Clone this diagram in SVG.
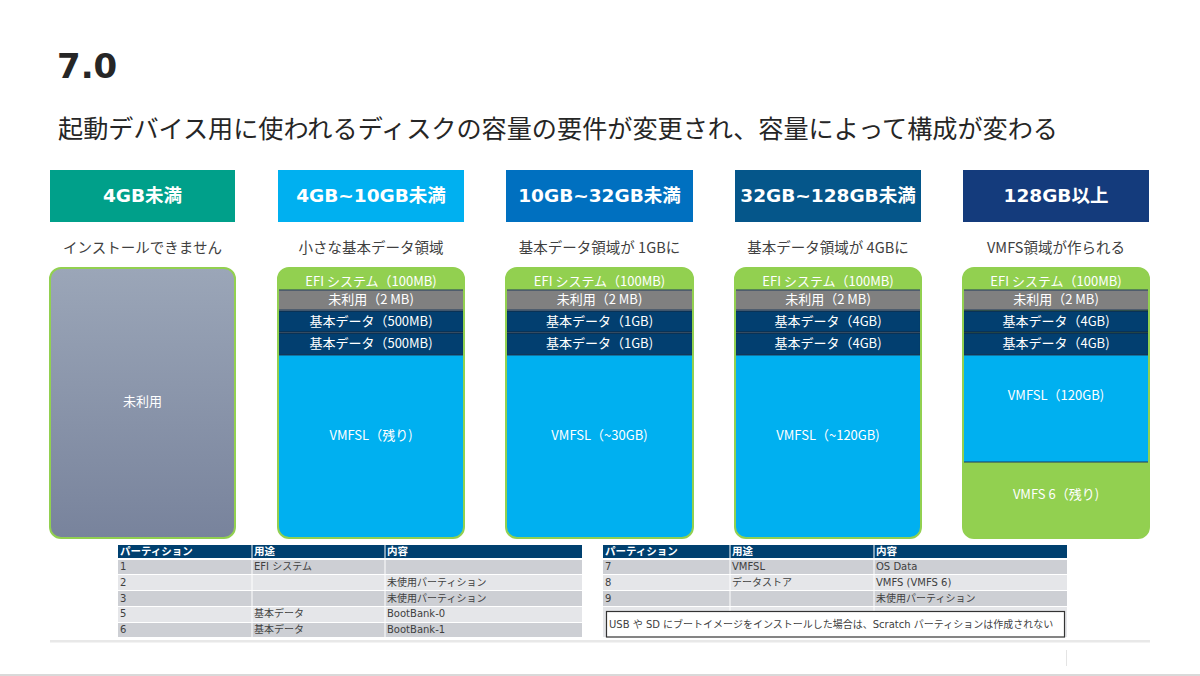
<svg xmlns="http://www.w3.org/2000/svg" width="1200" height="676" viewBox="0 0 1200 676">
<style>
.jp{font-family:"Noto Sans CJK JP","Noto Sans",sans-serif}
.ttl{font-family:"DejaVu Sans","Noto Sans CJK JP",sans-serif;font-weight:bold;font-size:34px;fill:#262626}
.sub{font-size:25px;fill:#262626}
.hd{font-family:"DejaVu Sans","Noto Sans CJK JP",sans-serif;font-size:18.5px;font-weight:bold;fill:#fff;text-anchor:middle}
.cap{font-size:14.5px;fill:#404040;text-anchor:middle}
.dk{font-size:13px;fill:#fff;text-anchor:middle}
.tb{font-family:"DejaVu Sans","Noto Sans CJK JP",sans-serif;font-size:10px;fill:#404040}
.th{font-family:"Noto Sans CJK JP",sans-serif;font-size:10.5px;font-weight:bold;fill:#fff}
.efi{fill:#92D050}
.gr{fill:#808080;stroke:#1F3B5A;stroke-width:1}
.bd{fill:#023F70;stroke:#0F2A45;stroke-width:1.2}
.lb{fill:#00B0F0;stroke:#1F3B5A;stroke-width:1}
.out{fill:none;stroke:#92D050;stroke-width:2}
.r1{fill:#CDCFD4}
.r2{fill:#E5E6E9}
.hr{fill:#00406F}
</style>
<defs>
<linearGradient id="gUn" x1="0" y1="0" x2="0" y2="1">
<stop offset="0" stop-color="#9BA6B8"/>
<stop offset="1" stop-color="#78839C"/>
</linearGradient>
<clipPath id="c2"><rect x="278" y="268" width="186" height="270" rx="11"/></clipPath>
<clipPath id="c3"><rect x="506" y="268" width="187" height="270" rx="11"/></clipPath>
<clipPath id="c4"><rect x="735" y="268" width="186" height="270" rx="11"/></clipPath>
<clipPath id="c5"><rect x="963" y="268" width="186" height="270" rx="11"/></clipPath>
</defs>
<rect width="1200" height="676" fill="#fff"/>

<g id="title">
<text x="57" y="78" class="ttl">7.0</text>
<text x="58" y="138" class="jp sub" textLength="1000" lengthAdjust="spacingAndGlyphs">起動デバイス用に使われるディスクの容量の要件が変更され、容量によって構成が変わる</text>
</g>

<g id="col1">
<rect x="50" y="170" width="185" height="52" fill="#00A08A"/>
<text x="142.5" y="202" class="hd">4GB未満</text>
<text x="142.5" y="253" class="jp cap">インストールできません</text>
<rect x="50" y="268" width="185" height="270" rx="11" fill="url(#gUn)"/>
<rect x="50" y="268" width="185" height="270" rx="11" class="out"/>
<text x="142.5" y="406" class="jp dk">未利用</text>
</g>

<g id="col2">
<rect x="278" y="170" width="186" height="52" fill="#00B0F0"/>
<text x="371" y="202" class="hd">4GB~10GB未満</text>
<text x="371" y="253" class="jp cap">小さな基本データ領域</text>
<g clip-path="url(#c2)">
<rect x="278" y="268" width="186" height="22" class="efi"/>
<rect x="278.5" y="290" width="185" height="20" class="gr"/>
<rect x="278.5" y="311" width="185" height="21" class="bd"/>
<rect x="278.5" y="333" width="185" height="22" class="bd"/>
<rect x="278.5" y="355" width="185" height="190" class="lb"/>
</g>
<rect x="278" y="268" width="186" height="270" rx="11" class="out"/>
<text x="371" y="286" class="jp dk">EFI システム（100MB)</text>
<text x="371" y="304" class="jp dk">未利用（2 MB)</text>
<text x="371" y="326" class="jp dk">基本データ（500MB)</text>
<text x="371" y="348" class="jp dk">基本データ（500MB)</text>
<text x="371" y="440" class="jp dk">VMFSL（残り)</text>
</g>

<g id="col3">
<rect x="506" y="170" width="187" height="52" fill="#0070C0"/>
<text x="599.5" y="202" class="hd">10GB~32GB未満</text>
<text x="599.5" y="253" class="jp cap">基本データ領域が 1GBに</text>
<g clip-path="url(#c3)">
<rect x="506" y="268" width="187" height="22" class="efi"/>
<rect x="506.5" y="290" width="186" height="20" class="gr"/>
<rect x="506.5" y="311" width="186" height="21" class="bd"/>
<rect x="506.5" y="333" width="186" height="22" class="bd"/>
<rect x="506.5" y="355" width="186" height="190" class="lb"/>
</g>
<rect x="506" y="268" width="187" height="270" rx="11" class="out"/>
<text x="599.5" y="286" class="jp dk">EFI システム（100MB)</text>
<text x="599.5" y="304" class="jp dk">未利用（2 MB)</text>
<text x="599.5" y="326" class="jp dk">基本データ（1GB)</text>
<text x="599.5" y="348" class="jp dk">基本データ（1GB)</text>
<text x="599.5" y="440" class="jp dk">VMFSL（~30GB)</text>
</g>

<g id="col4">
<rect x="735" y="170" width="186" height="52" fill="#05568A"/>
<text x="828" y="202" class="hd">32GB~128GB未満</text>
<text x="828" y="253" class="jp cap">基本データ領域が 4GBに</text>
<g clip-path="url(#c4)">
<rect x="735" y="268" width="186" height="22" class="efi"/>
<rect x="735.5" y="290" width="185" height="20" class="gr"/>
<rect x="735.5" y="311" width="185" height="21" class="bd"/>
<rect x="735.5" y="333" width="185" height="22" class="bd"/>
<rect x="735.5" y="355" width="185" height="190" class="lb"/>
</g>
<rect x="735" y="268" width="186" height="270" rx="11" class="out"/>
<text x="828" y="286" class="jp dk">EFI システム（100MB)</text>
<text x="828" y="304" class="jp dk">未利用（2 MB)</text>
<text x="828" y="326" class="jp dk">基本データ（4GB)</text>
<text x="828" y="348" class="jp dk">基本データ（4GB)</text>
<text x="828" y="440" class="jp dk">VMFSL（~120GB)</text>
</g>

<g id="col5">
<rect x="963" y="170" width="186" height="52" fill="#143B7C"/>
<text x="1056" y="202" class="hd">128GB以上</text>
<text x="1056" y="253" class="jp cap">VMFS領域が作られる</text>
<g clip-path="url(#c5)">
<rect x="963" y="268" width="186" height="270" class="efi"/>
<rect x="963.5" y="290" width="185" height="20" class="gr"/>
<rect x="963.5" y="311" width="185" height="21" class="bd"/>
<rect x="963.5" y="333" width="185" height="22" class="bd"/>
<rect x="963.5" y="355" width="185" height="107" class="lb"/>
</g>
<rect x="963" y="268" width="186" height="270" rx="11" class="out"/>
<text x="1056" y="286" class="jp dk">EFI システム（100MB)</text>
<text x="1056" y="304" class="jp dk">未利用（2 MB)</text>
<text x="1056" y="326" class="jp dk">基本データ（4GB)</text>
<text x="1056" y="348" class="jp dk">基本データ（4GB)</text>
<text x="1056" y="400" class="jp dk">VMFSL（120GB)</text>
<text x="1056" y="499" class="jp dk">VMFS 6（残り)</text>
</g>

<g id="table-left">
<rect x="118" y="545" width="464" height="13" class="hr"/>
<rect x="118" y="560" width="464" height="14" class="r1"/>
<rect x="118" y="575" width="464" height="15" class="r2"/>
<rect x="118" y="591" width="464" height="15" class="r1"/>
<rect x="118" y="607" width="464" height="15" class="r2"/>
<rect x="118" y="623" width="464" height="14" class="r1"/>
<g stroke="#fff" stroke-width="1">
<line x1="252" y1="545" x2="252" y2="637"/>
<line x1="385" y1="545" x2="385" y2="637"/>
</g>
<text x="120" y="555" class="th">パーティション</text>
<text x="254" y="555" class="th">用途</text>
<text x="387" y="555" class="th">内容</text>
<text x="120" y="570" class="tb">1</text>
<text x="254" y="570" class="tb">EFI システム</text>
<text x="120" y="586" class="tb">2</text>
<text x="387" y="586" class="tb">未使用パーティション</text>
<text x="120" y="602" class="tb">3</text>
<text x="387" y="602" class="tb">未使用パーティション</text>
<text x="120" y="617" class="tb">5</text>
<text x="254" y="617" class="tb">基本データ</text>
<text x="387" y="617" class="tb">BootBank-0</text>
<text x="120" y="633" class="tb">6</text>
<text x="254" y="633" class="tb">基本データ</text>
<text x="387" y="633" class="tb">BootBank-1</text>
</g>

<g id="table-right">
<rect x="603" y="545" width="464" height="13" class="hr"/>
<rect x="603" y="560" width="464" height="14" class="r1"/>
<rect x="603" y="575" width="464" height="15" class="r2"/>
<rect x="603" y="591" width="464" height="15" class="r1"/>
<rect x="603" y="607" width="464" height="30" class="r2"/>
<g stroke="#fff" stroke-width="1">
<line x1="730" y1="545" x2="730" y2="637"/>
<line x1="874" y1="545" x2="874" y2="637"/>
</g>
<text x="605" y="555" class="th">パーティション</text>
<text x="732" y="555" class="th">用途</text>
<text x="876" y="555" class="th">内容</text>
<text x="605" y="570" class="tb">7</text>
<text x="732" y="570" class="tb">VMFSL</text>
<text x="876" y="570" class="tb">OS Data</text>
<text x="605" y="586" class="tb">8</text>
<text x="732" y="586" class="tb">データストア</text>
<text x="876" y="586" class="tb">VMFS (VMFS 6)</text>
<text x="605" y="602" class="tb">9</text>
<text x="876" y="602" class="tb">未使用パーティション</text>
</g>

<g id="note">
<rect x="606.5" y="611.5" width="458" height="25.5" fill="#fff" stroke="#333" stroke-width="1.2"/>
<text x="609" y="628" class="tb">USB や SD にブートイメージをインストールした場合は、Scratch パーティションは作成されない</text>
</g>

<g id="footer">
<rect x="50" y="640" width="1100" height="2.5" fill="#E8E8E8"/>
<rect x="1066" y="650" width="1" height="16" fill="#E4E4E4"/>
<rect x="0" y="674" width="1200" height="2" fill="#D9D9D9"/>
</g>
</svg>
